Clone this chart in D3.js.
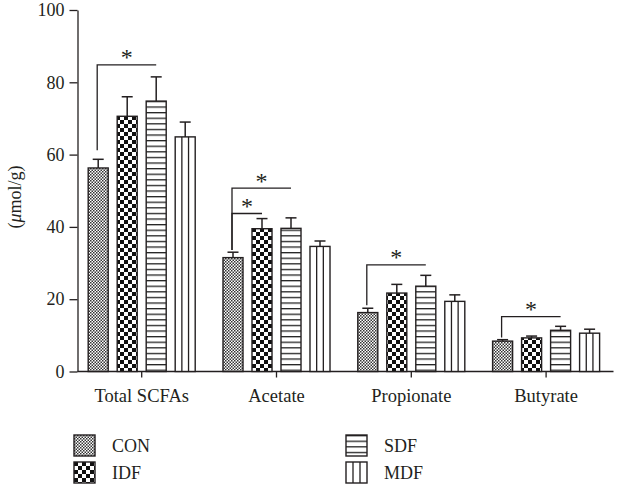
<!DOCTYPE html>
<html>
<head>
<meta charset="utf-8">
<script src="https://cdn.jsdelivr.net/npm/d3@7"></script>
<style>
  html, body { margin: 0; padding: 0; background: #fff; }
  svg { display: block; }
  text { font-family: "Liberation Serif", "DejaVu Serif", serif; fill: #231f20; }
</style>
</head>
<body>
<svg id="chart" width="618" height="485"></svg>
<script>
// ---------- data ----------
const categories = ["Total SCFAs", "Acetate", "Propionate", "Butyrate"];
const series = ["CON", "IDF", "SDF", "MDF"];
const conMeans = [56.3, 31.5, 16.3, 8.4];
const idfMeans = [70.6, 39.5, 21.7, 9.3];
const sdfMeans = [74.8, 39.6, 23.6, 11.4];
const mdfMeans = [64.9, 34.6, 19.4, 10.6];
const conErr = [2.4, 1.5, 1.2, 0.4];
const idfErr = [5.4, 2.8, 2.4, 0.5];
const sdfErr = [6.7, 2.9, 3.0, 1.1];
const mdfErr = [4.1, 1.5, 1.8, 1.1];
const yTicks = [0, 20, 40, 60, 80, 100];
const yLabel = "mol/g";
// significance brackets (from CON to target series)
const sigCategory = ["Total SCFAs", "Acetate", "Acetate", "Propionate", "Butyrate"];
const sigTarget = ["SDF", "SDF", "IDF", "SDF", "SDF"];
const sigLevel = [84.8, 50.7, 43.7, 29.5, 15.2];
const sigDrop = [61.2, 33.6, 33.6, 18.3, 9.4];

const meansBySeries = { CON: conMeans, IDF: idfMeans, SDF: sdfMeans, MDF: mdfMeans };
const errBySeries = { CON: conErr, IDF: idfErr, SDF: sdfErr, MDF: mdfErr };
const rows = [];
categories.forEach((c, i) => series.forEach(s => rows.push({ cat: c, ser: s, v: meansBySeries[s][i], e: errBySeries[s][i] })));

// ---------- layout ----------
const svg = d3.select("#chart");
const ink = "#231f20";
const x0 = d3.scaleBand().domain(categories).range([74.3, 613.5]);
const x1 = d3.scaleBand().domain(series).range([-58, 58]).paddingInner(0.31).paddingOuter(0.155);
const y = d3.scaleLinear().domain([0, 100]).range([371.5, 10]);
const cx = d => x0(d) + x0.bandwidth() / 2;

// ---------- patterns ----------
const defs = svg.append("defs");
const pCon = defs.append("pattern").attr("id", "pCON").attr("patternUnits", "userSpaceOnUse").attr("width", 3).attr("height", 3);
pCon.append("rect").attr("width", 3).attr("height", 3).attr("fill", "#fff");
pCon.append("rect").attr("width", 1.5).attr("height", 1.5).attr("fill", "#333");
pCon.append("rect").attr("x", 1.5).attr("y", 1.5).attr("width", 1.5).attr("height", 1.5).attr("fill", "#333");

const pIdf = defs.append("pattern").attr("id", "pIDF").attr("patternUnits", "userSpaceOnUse").attr("width", 8).attr("height", 8);
pIdf.append("rect").attr("width", 8).attr("height", 8).attr("fill", "#fff");
pIdf.append("rect").attr("width", 4).attr("height", 4).attr("fill", "#111");
pIdf.append("rect").attr("x", 4).attr("y", 4).attr("width", 4).attr("height", 4).attr("fill", "#111");

const pSdf = defs.append("pattern").attr("id", "pSDF").attr("patternUnits", "userSpaceOnUse").attr("width", 8).attr("height", 5.6);
pSdf.append("rect").attr("width", 8).attr("height", 5.6).attr("fill", "#fff");
pSdf.append("rect").attr("y", 0).attr("width", 8).attr("height", 1.3).attr("fill", "#222");

const fillFor = s => s === "MDF" ? "#fff" : `url(#p${s})`;

// ---------- axes ----------
const yAxis = svg.append("g").attr("transform", "translate(77.5,0)")
  .call(d3.axisLeft(y).tickValues(yTicks).tickSize(8).tickSizeOuter(0).tickPadding(5));
yAxis.selectAll("text").attr("font-size", 18).style("font-family", "Liberation Serif");
yAxis.selectAll("line, path").attr("stroke", ink).attr("stroke-width", 1.3);

const xAxis = svg.append("g").attr("transform", `translate(0,${y(0)})`)
  .call(d3.axisBottom(x0).tickSize(6).tickSizeOuter(0).tickPadding(11.5));
xAxis.select(".domain").attr("d", "M77.5,0H613.5");
xAxis.selectAll("text").attr("font-size", 18.5).style("font-family", "Liberation Serif");
xAxis.selectAll("line, path").attr("stroke", ink).attr("stroke-width", 1.3);

// y label
const yl = svg.append("text").attr("transform", "translate(21,197) rotate(-90)")
  .attr("text-anchor", "middle").attr("font-size", 18);
yl.append("tspan").text("(");
yl.append("tspan").attr("font-style", "italic").text("\u03bc");
yl.append("tspan").text(yLabel + ")");

// ---------- bars ----------
const g = svg.append("g");
const bw = x1.bandwidth();
g.selectAll("rect.bar").data(rows).join("rect").attr("class", "bar")
  .attr("x", d => cx(d.cat) + x1(d.ser))
  .attr("y", d => y(d.v))
  .attr("width", bw)
  .attr("height", d => y(0) - y(d.v))
  .attr("fill", d => fillFor(d.ser))
  .attr("stroke", ink).attr("stroke-width", 1.4);

// MDF internal vertical lines
const mdfRows = rows.filter(d => d.ser === "MDF");
[1 / 3, 2 / 3].forEach(f => {
  g.selectAll(null).data(mdfRows).join("line")
    .attr("x1", d => cx(d.cat) + x1(d.ser) + bw * f)
    .attr("x2", d => cx(d.cat) + x1(d.ser) + bw * f)
    .attr("y1", d => y(d.v)).attr("y2", y(0))
    .attr("stroke", ink).attr("stroke-width", 1.3);
});

// error bars
const eg = svg.append("g").attr("stroke", ink).attr("stroke-width", 1.5);
eg.selectAll("line.ev").data(rows).join("line").attr("class", "ev")
  .attr("x1", d => cx(d.cat) + x1(d.ser) + bw / 2)
  .attr("x2", d => cx(d.cat) + x1(d.ser) + bw / 2)
  .attr("y1", d => y(d.v)).attr("y2", d => y(d.v + d.e));
eg.selectAll("line.ec").data(rows).join("line").attr("class", "ec")
  .attr("x1", d => cx(d.cat) + x1(d.ser) + bw / 2 - 5.5)
  .attr("x2", d => cx(d.cat) + x1(d.ser) + bw / 2 + 5.5)
  .attr("y1", d => y(d.v + d.e)).attr("y2", d => y(d.v + d.e));

// ---------- significance ----------
const sg = svg.append("g");
sigCategory.forEach((c, i) => {
  const xl = cx(c) + x1("CON") + bw / 2 - 1;
  const xr = cx(c) + x1(sigTarget[i]) + bw / 2;
  sg.append("path")
    .attr("d", `M${xl},${y(sigDrop[i])}V${y(sigLevel[i])}H${xr}`)
    .attr("fill", "none").attr("stroke", ink).attr("stroke-width", 1.3);
  sg.append("text").attr("x", (xl + xr) / 2).attr("y", y(sigLevel[i]) + 0.5)
    .attr("text-anchor", "middle").attr("font-size", 24).text("*");
});

// ---------- legend ----------
const legX = [74, 346];
const legY = [435, 462];
series.forEach((s, i) => {
  const lx = legX[Math.floor(i / 2)];
  const ly = legY[i % 2];
  const lg = svg.append("g").attr("transform", `translate(${lx},${ly})`);
  lg.append("rect").attr("width", 21).attr("height", 21)
    .attr("fill", fillFor(s)).attr("stroke", ink).attr("stroke-width", 1.4);
  if (s === "MDF") {
    [7, 14].forEach(px => lg.append("line").attr("x1", px).attr("x2", px).attr("y1", 0).attr("y2", 21)
      .attr("stroke", ink).attr("stroke-width", 1.3));
  }
  lg.append("text").attr("x", 38).attr("y", 11).attr("dy", "0.35em")
    .attr("font-size", 18).text(s);
});
</script>
</body>
</html>
